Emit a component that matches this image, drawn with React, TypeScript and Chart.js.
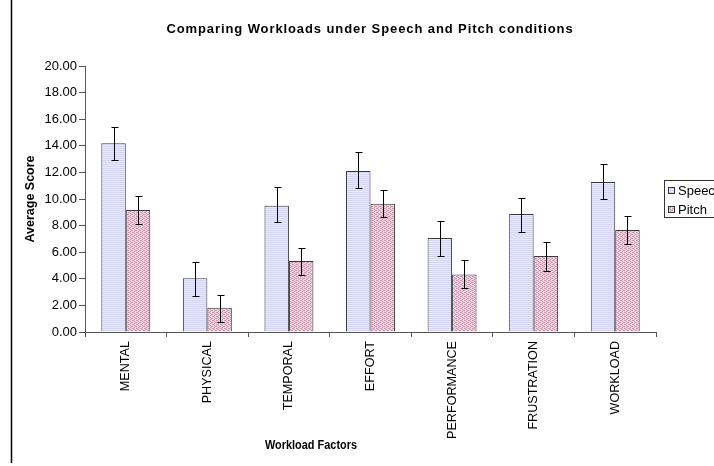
import React, { useEffect, useRef } from "react";
import { Chart, registerables } from "chart.js";

Chart.register(...registerables);

const categories = ["MENTAL", "PHYSICAL", "TEMPORAL", "EFFORT", "PERFORMANCE", "FRUSTRATION", "WORKLOAD"];
const speechValues = [14.2, 4.05, 9.5, 12.1, 7.07, 8.87, 11.28];
const speechErrHigh = [15.45, 5.29, 10.9, 13.5, 8.38, 10.1, 12.6];
const speechErrLow = [12.9, 2.73, 8.27, 10.85, 5.75, 7.55, 10.0];
const pitchValues = [9.17, 1.83, 5.34, 9.65, 4.32, 5.71, 7.67];
const pitchErrHigh = [10.2, 2.8, 6.34, 10.7, 5.43, 6.74, 8.74];
const pitchErrLow = [8.1, 0.75, 4.3, 8.67, 3.3, 4.6, 6.63];
const seriesNames = ["Speech", "Pitch"];
const chartTitle = "Comparing Workloads under Speech and Pitch conditions";
const xTitle = "Workload Factors";
const yTitle = "Average Score";

const FONT = "'Liberation Sans', Arial, sans-serif";

function makePattern(kind: "speech" | "pitch"): CanvasPattern | string {
  const c = document.createElement("canvas");
  c.width = 4;
  c.height = 4;
  const g = c.getContext("2d");
  if (!g) return kind === "speech" ? "#E6E6FA" : "#E4C8D6";
  if (kind === "speech") {
    g.fillStyle = "#EAEAFE";
    g.fillRect(0, 0, 4, 4);
    g.fillStyle = "#D4D4F4";
    g.fillRect(0, 0, 4, 1);
    g.fillRect(0, 2, 4, 1);
  } else {
    g.fillStyle = "#EBD3DF";
    g.fillRect(0, 0, 4, 4);
    g.fillStyle = "#C996AE";
    g.fillRect(0, 0, 1, 1);
    g.fillRect(2, 1, 1, 1);
    g.fillRect(0, 2, 1, 1);
    g.fillRect(2, 3, 1, 1);
    g.fillRect(1, 0, 1, 1);
    g.fillRect(3, 2, 1, 1);
  }
  const p = g.createPattern(c, "repeat");
  return p || "#E6E6FA";
}

const errorBarPlugin = {
  id: "errorBars",
  afterDatasetsDraw(chart: any) {
    const ctx = chart.ctx;
    const y = chart.scales.y;
    const highs = [speechErrHigh, pitchErrHigh];
    const lows = [speechErrLow, pitchErrLow];
    ctx.save();
    ctx.strokeStyle = "#000";
    ctx.lineWidth = 1;
    for (let d = 0; d < 2; d++) {
      const meta = chart.getDatasetMeta(d);
      meta.data.forEach((bar: any, i: number) => {
        const x = Math.round(bar.x) + 0.5;
        const yh = Math.round(y.getPixelForValue(highs[d][i])) + 0.5;
        const yl = Math.round(y.getPixelForValue(lows[d][i])) + 0.5;
        ctx.beginPath();
        ctx.moveTo(x, yh);
        ctx.lineTo(x, yl);
        ctx.moveTo(x - 3, yh);
        ctx.lineTo(x + 4, yh);
        ctx.moveTo(x - 3, yl);
        ctx.lineTo(x + 4, yl);
        ctx.stroke();
      });
    }
    ctx.restore();
  },
};

const decorPlugin = {
  id: "decor",
  afterDraw(chart: any) {
    const ctx = chart.ctx;
    ctx.save();
    // left border line
    ctx.strokeStyle = "#000";
    ctx.lineWidth = 1.5;
    ctx.beginPath();
    ctx.moveTo(11.5, 0);
    ctx.lineTo(11.5, 463);
    ctx.stroke();

    // title
    ctx.fillStyle = "#000";
    ctx.textAlign = "center";
    ctx.textBaseline = "middle";
    ctx.font = `bold 13px ${FONT}`;
    (ctx as any).letterSpacing = "0.9px";
    ctx.fillText(chartTitle, 370, 29);
    (ctx as any).letterSpacing = "0px";

    // x title
    ctx.font = `bold 12px ${FONT}`;
    ctx.save();
    ctx.translate(311, 446);
    ctx.scale(0.91, 1.05);
    ctx.fillText(xTitle, 0, 0);
    ctx.restore();

    // y title
    ctx.font = `bold 12.5px ${FONT}`;
    ctx.save();
    ctx.translate(31, 199);
    ctx.rotate(-Math.PI / 2);
    ctx.fillText(yTitle, 0, 0);
    ctx.restore();

    // legend
    ctx.strokeStyle = "#333";
    ctx.lineWidth = 1;
    ctx.fillStyle = "#fff";
    ctx.fillRect(664.5, 180.5, 80, 37);
    ctx.strokeRect(664.5, 180.5, 80, 37);
    const fills = chart.data.datasets.map((ds: any) => ds.backgroundColor);
    const ys = [190.5, 209.5];
    ctx.font = `13px ${FONT}`;
    ctx.textAlign = "left";
    for (let i = 0; i < 2; i++) {
      ctx.fillStyle = fills[i];
      ctx.fillRect(668.5, ys[i] - 3, 6, 6);
      ctx.strokeStyle = "#333";
      ctx.strokeRect(668.5, ys[i] - 3, 6, 6);
      ctx.fillStyle = "#000";
      ctx.fillText(seriesNames[i], 678, ys[i] + 1);
    }
    ctx.restore();
  },
};

export default function App() {
  const ref = useRef<HTMLCanvasElement | null>(null);
  useEffect(() => {
    if (!ref.current) return;
    const speechFill = makePattern("speech");
    const pitchFill = makePattern("pitch");
    const chart = new Chart(ref.current, {
      type: "bar",
      data: {
        labels: categories,
        datasets: [
          {
            label: seriesNames[0],
            data: speechValues,
            backgroundColor: speechFill as any,
            borderColor: "#3a3a3a",
            borderWidth: 1,
          },
          {
            label: seriesNames[1],
            data: pitchValues,
            backgroundColor: pitchFill as any,
            borderColor: "#3a3a3a",
            borderWidth: 1,
          },
        ],
      },
      options: {
        animation: false,
        responsive: false,
        events: [],
        layout: { padding: { left: 0, top: 66, right: 58, bottom: 0 } },
        plugins: {
          legend: { display: false },
          title: { display: false },
          tooltip: { enabled: false },
        },
        datasets: {
          bar: { categoryPercentage: 0.6, barPercentage: 1.0 },
        },
        scales: {
          x: {
            afterFit: (s: any) => {
              s.height = 134;
            },
            grid: {
              offset: true,
              drawOnChartArea: false,
              drawTicks: true,
              tickLength: 5,
              color: "#555",
            },
            border: { color: "#555", width: 1 },
            ticks: {
              minRotation: 90,
              maxRotation: 90,
              autoSkip: false,
              padding: 4,
              color: "#000",
              font: { family: FONT, size: 12.6 },
            },
          },
          y: {
            min: 0,
            max: 20,
            afterFit: (s: any) => {
              s.width = 85;
            },
            grid: {
              drawOnChartArea: false,
              drawTicks: true,
              tickLength: 6,
              color: "#555",
            },
            border: { color: "#555", width: 1 },
            ticks: {
              stepSize: 2,
              padding: 2,
              color: "#000",
              font: { family: FONT, size: 13 },
              callback: (v: any) => Number(v).toFixed(2),
            },
          },
        },
      },
      plugins: [errorBarPlugin, decorPlugin],
    });
    return () => chart.destroy();
  }, []);
  return (
    <div style={{ position: "fixed", left: 0, top: 0, width: 714, height: 466, background: "#fff", overflow: "hidden" }}>
      <canvas ref={ref} width={714} height={466} style={{ display: "block" }} />
    </div>
  );
}
